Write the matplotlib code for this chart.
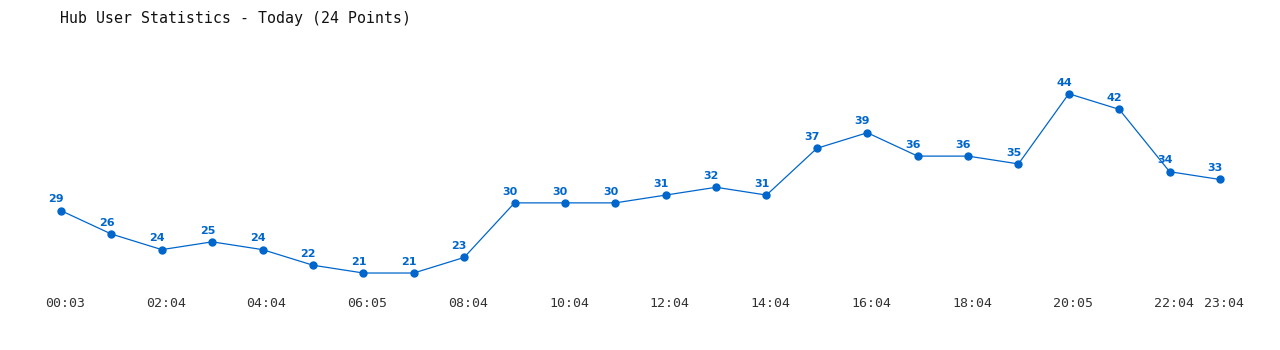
import matplotlib.pyplot as plt
import matplotlib.transforms as mtransforms

# data
times = ["00:03", "01:04", "02:04", "03:04", "04:04", "05:04", "06:05", "07:04",
         "08:04", "09:04", "10:04", "11:04", "12:04", "13:04", "14:04", "15:04",
         "16:04", "17:04", "18:04", "19:04", "20:05", "21:04", "22:04", "23:04"]
users = [29, 26, 24, 25, 24, 22, 21, 21, 23, 30, 30, 30, 31, 32, 31, 37,
         39, 36, 36, 35, 44, 42, 34, 33]
tick_idx = [0, 2, 4, 6, 8, 10, 12, 14, 16, 18, 20, 22, 23]

blue = "#0066CC"
W, H = 1280, 350

fig = plt.figure(figsize=(12.8, 3.5), dpi=100)
# axes placed in pixels: x from 61 to 1220, y from 47 to 292 (top-down)
ax = fig.add_axes([61 / W, 1 - 292.5 / H, (1220 - 61) / W, (292.5 - 47) / H])

x = list(range(len(users)))
ax.plot(x, users, color=blue, linewidth=0.9, marker="o", markersize=5,
        markerfacecolor=blue, markeredgecolor=blue, clip_on=False)

for xi, v in zip(x, users):
    ax.annotate(str(v), (xi, v), xytext=(-3.5, 4.5), textcoords="offset points",
                ha="center", va="bottom", fontsize=8, fontweight="bold",
                color=blue, family="DejaVu Sans")

ax.set_xlim(0, 23)
ax.set_ylim(18.5, 50)
ax.set_xticks(tick_idx)
ax.set_xticklabels([times[i] for i in tick_idx], family="DejaVu Sans Mono",
                   fontsize=9.5, color="#333333")
ax.tick_params(axis="x", length=0, pad=3)
# labels sit a little right of their points
shift = mtransforms.ScaledTranslation(4 / 100, 0, fig.dpi_scale_trans)
for lbl in ax.get_xticklabels():
    lbl.set_transform(lbl.get_transform() + shift)
ax.set_yticks([])
for s in ax.spines.values():
    s.set_visible(False)

fig.text(60 / W, 1 - 18 / H, "Hub User Statistics - Today (24 Points)",
         family="DejaVu Sans Mono", fontsize=10.7, color="#111111",
         ha="left", va="center")

fig.savefig("out.png", dpi=100, facecolor="white")
